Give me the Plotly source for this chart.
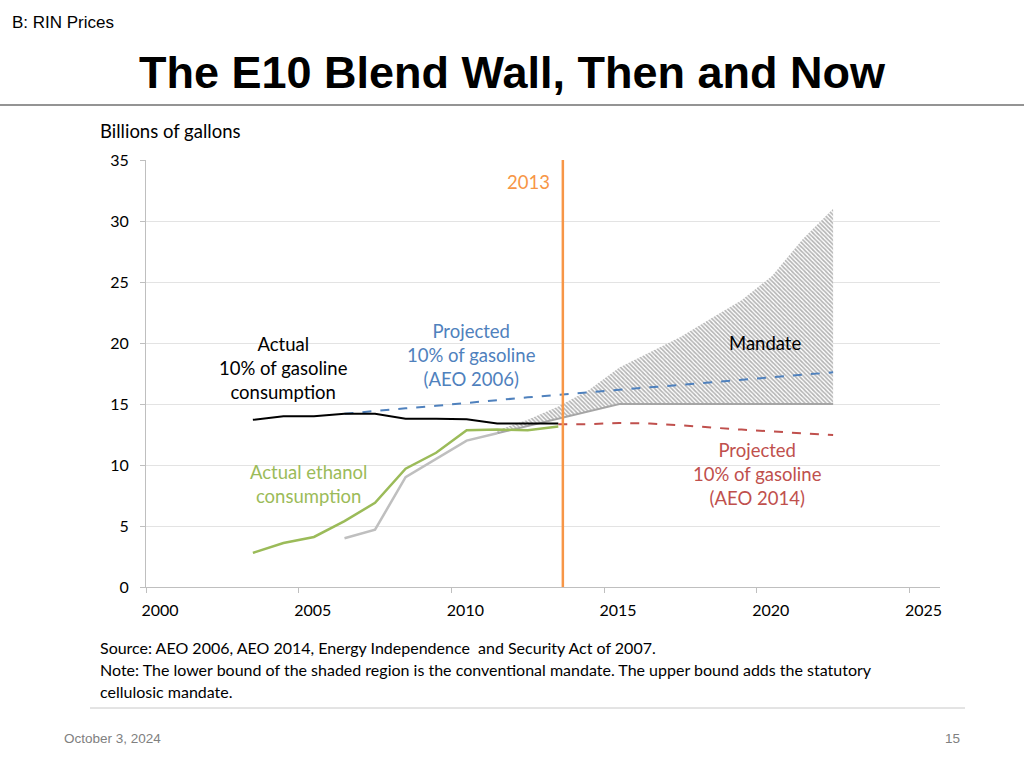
import plotly.graph_objects as go

# ---------------- data ----------------
years_actual = [2003, 2004, 2005, 2006, 2007, 2008, 2009, 2010, 2011, 2012, 2013]
gasoline_10pct_actual = [13.7, 14.0, 14.0, 14.2, 14.2, 13.8, 13.8, 13.75, 13.4, 13.4, 13.4]
ethanol_actual = [2.8, 3.6, 4.1, 5.4, 6.9, 9.7, 11.0, 12.85, 12.9, 12.85, 13.15]

years_conv = [2006, 2007, 2008, 2009, 2010, 2011]
conventional_mandate = [4.0, 4.7, 9.0, 10.5, 12.0, 12.6]

years_mandate = [2011, 2012, 2013, 2014, 2015, 2016, 2017, 2018, 2019, 2020, 2021, 2022]
mandate_lower = [12.6, 13.2, 13.8, 14.4, 15.0, 15.0, 15.0, 15.0, 15.0, 15.0, 15.0, 15.0]
mandate_upper = [12.85, 13.7, 14.8, 16.15, 18.0, 19.25, 20.5, 22.0, 23.5, 25.5, 28.5, 31.0]

years_aeo2006 = list(range(2006, 2023))
aeo2006_proj = [14.2, 14.45, 14.65, 14.85, 15.1, 15.3, 15.55, 15.75, 15.95,
                16.2, 16.4, 16.6, 16.8, 17.0, 17.2, 17.4, 17.6]

years_aeo2014 = list(range(2013, 2023))
aeo2014_proj = [13.35, 13.35, 13.45, 13.4, 13.25, 13.05, 12.9, 12.75, 12.6, 12.45]

marker_year = 2013.15
x_tick_vals = [1999.5, 2004.5, 2009.5, 2014.5, 2019.5, 2024.5]
x_tick_text = ["2000", "2005", "2010", "2015", "2020", "2025"]
y_tick_vals = [0, 5, 10, 15, 20, 25, 30, 35]

# ---------------- styles ----------------
W, H = 1024, 768
BLACK = "#000000"
GREEN = "#9BBB59"
GRAY = "#BFBFBF"
BLUE = "#4F81BD"
RED = "#C0504D"
ORANGE = "#F79646"
CH_FONT = "Lato"
LBL = 18.5


def px(x):
    return x / W


def py(y):
    return 1 - y / H


fig = go.Figure()

# mandate shaded region
fig.add_trace(go.Scatter(x=years_mandate + years_mandate[::-1],
                         y=mandate_upper + mandate_lower[::-1],
                         mode="lines", line=dict(width=0), fill="toself",
                         fillcolor="rgba(0,0,0,0)",
                         fillpattern=dict(shape="\\", fgcolor="#6a6a6a", bgcolor="white",
                                          size=3, solidity=0.55),
                         showlegend=False, hoverinfo="skip"))
fig.add_trace(go.Scatter(x=years_mandate, y=mandate_lower, mode="lines",
                         line=dict(color="#A6A6A6", width=2), showlegend=False,
                         hoverinfo="skip"))

fig.add_trace(go.Scatter(x=years_conv, y=conventional_mandate, mode="lines",
                         line=dict(color=GRAY, width=2.5), showlegend=False))
fig.add_trace(go.Scatter(x=years_aeo2006, y=aeo2006_proj, mode="lines",
                         line=dict(color=BLUE, width=2, dash="dash"), showlegend=False))
fig.add_trace(go.Scatter(x=years_aeo2014, y=aeo2014_proj, mode="lines",
                         line=dict(color=RED, width=2, dash="dash"), showlegend=False))
fig.add_trace(go.Scatter(x=years_actual, y=ethanol_actual, mode="lines",
                         line=dict(color=GREEN, width=2.5), showlegend=False))
fig.add_trace(go.Scatter(x=years_actual, y=gasoline_10pct_actual, mode="lines",
                         line=dict(color=BLACK, width=2), showlegend=False))

# 2013 vertical line
fig.add_shape(type="line", xref="x", yref="y domain", x0=marker_year, x1=marker_year,
              y0=0, y1=1, line=dict(color=ORANGE, width=2.5))

fig.update_layout(
    width=W, height=H, autosize=False,
    margin=dict(l=0, r=0, t=0, b=0, pad=0, autoexpand=False),
    paper_bgcolor="white", plot_bgcolor="white",
    font=dict(family=CH_FONT, color="#000000"),
    xaxis=dict(domain=[px(146), px(940)], range=[1999.5, 2025.5], automargin=False,
               tickvals=x_tick_vals, ticktext=x_tick_text, ticklabelshift=14,
               ticklabelstandoff=4,
               ticks="outside", ticklen=5, tickcolor="#BFBFBF",
               showgrid=False, zeroline=False, showline=True,
               linecolor="#BFBFBF", linewidth=1,
               tickfont=dict(family=CH_FONT, size=16, color="#000000")),
    yaxis=dict(domain=[py(587), py(160)], range=[0, 35], tickvals=y_tick_vals,
               automargin=False, ticklabelstandoff=8,
               ticks="outside", ticklen=5, tickcolor="#BFBFBF",
               showgrid=True, gridcolor="#E3E3E3", gridwidth=1, zeroline=False,
               showline=True, linecolor="#BFBFBF", linewidth=1,
               tickfont=dict(family=CH_FONT, size=16, color="#000000")),
)

annotations = [
    # slide header
    dict(x=px(10), y=py(22), text="B: RIN Prices", xanchor="left", yanchor="middle",
         font=dict(family="Liberation Sans", size=17, color="#000000")),
    dict(x=px(512), y=py(72), text="<b>The E10 Blend Wall, Then and Now</b>",
         xanchor="center", yanchor="middle",
         font=dict(family="Liberation Sans", size=45, color="#000000")),
    # chart texts
    dict(x=px(98), y=py(131), text="Billions of gallons", xanchor="left", yanchor="middle",
         font=dict(family=CH_FONT, size=18.5, color="#000000")),
    dict(x=px(283), y=py(368), text="Actual<br>10% of gasoline<br>consumption",
         xanchor="center", yanchor="middle",
         font=dict(family=CH_FONT, size=LBL, color=BLACK)),
    dict(x=px(471), y=py(355), text="Projected<br>10% of gasoline<br>(AEO 2006)",
         xanchor="center", yanchor="middle",
         font=dict(family=CH_FONT, size=LBL, color=BLUE)),
    dict(x=px(765), y=py(343), text="Mandate", xanchor="center", yanchor="middle",
         font=dict(family=CH_FONT, size=LBL, color=BLACK)),
    dict(x=px(757), y=py(474), text="Projected<br>10% of gasoline<br>(AEO 2014)",
         xanchor="center", yanchor="middle",
         font=dict(family=CH_FONT, size=LBL, color=RED)),
    dict(x=px(308), y=py(484), text="Actual ethanol<br>consumption",
         xanchor="center", yanchor="middle",
         font=dict(family=CH_FONT, size=LBL, color=GREEN)),
    dict(x=px(528), y=py(182), text="2013", xanchor="center", yanchor="middle",
         font=dict(family=CH_FONT, size=LBL, color=ORANGE)),
    # source / note
    dict(x=px(98), y=py(647),
         text="Source: AEO 2006, AEO 2014, Energy Independence  and Security Act of 2007.",
         xanchor="left", yanchor="middle",
         font=dict(family=CH_FONT, size=16, color="#000000")),
    dict(x=px(98), y=py(669),
         text="Note: The lower bound of the shaded region is the conventional mandate. The upper bound adds the statutory",
         xanchor="left", yanchor="middle",
         font=dict(family=CH_FONT, size=16, color="#000000")),
    dict(x=px(98), y=py(691), text="cellulosic mandate.",
         xanchor="left", yanchor="middle",
         font=dict(family=CH_FONT, size=16, color="#000000")),
    # footer
    dict(x=px(62), y=py(738), text="October 3, 2024", xanchor="left", yanchor="middle",
         font=dict(family="Liberation Sans", size=13.5, color="#808080")),
    dict(x=px(962), y=py(738), text="15", xanchor="right", yanchor="middle",
         font=dict(family="Liberation Sans", size=13.5, color="#808080")),
]
for a in annotations:
    a.update(xref="paper", yref="paper", showarrow=False)
fig.update_layout(annotations=annotations)

# header rule and footer rule
fig.add_shape(type="line", xref="paper", yref="paper", x0=0, x1=1, y0=py(105), y1=py(105),
              line=dict(color="#707070", width=1.5))
fig.add_shape(type="line", xref="paper", yref="paper", x0=px(90), x1=px(965),
              y0=py(708), y1=py(708), line=dict(color="#C8C8C8", width=1))

fig.write_html(
    "out.html",
    config={"displayModeBar": False},
    post_script="document.body.style.margin='0';document.body.style.padding='0';"
                "document.body.style.overflow='hidden';"
                "document.documentElement.style.overflow='hidden';",
)
